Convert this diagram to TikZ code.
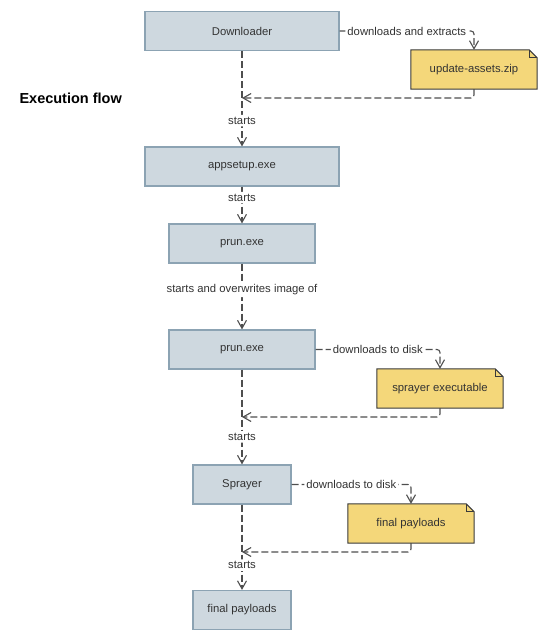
\documentclass[tikz,border=0pt]{standalone}
\usepackage{fontspec}
\setmainfont{Liberation Sans}
\usetikzlibrary{arrows.meta}

\definecolor{boxfill}{HTML}{CED8DF}
\definecolor{boxline}{HTML}{8CA3B3}
\definecolor{notefill}{HTML}{F4D77A}
\definecolor{noteline}{HTML}{3A3A3A}
\definecolor{flowline}{HTML}{4E4E4E}
\definecolor{txt}{HTML}{333333}

\pgfdeclarelayer{background}
\pgfsetlayers{background,main}

\begin{document}
\begin{tikzpicture}[x=1pt, y=-1pt,
    procbox/.style={rectangle, draw=boxline, fill=boxfill, line width=1.2pt, minimum height=39pt, font=\fontsize{11.3}{13}\selectfont, text=txt},
    notetext/.style={rectangle, minimum width=126pt, minimum height=39pt, font=\fontsize{11.3}{13}\selectfont, text=txt},
    flow/.style={draw=flowline, line width=1.1pt, dash pattern=on 7pt off 3pt, rounded corners=3pt, -{Straight Barb[length=8pt,width=9pt]}},
    lbl/.style={fill=white, inner sep=2pt, font=\fontsize{11.3}{13}\selectfont, text=txt}]
    \useasboundingbox (0, 0) rectangle (556, 640);

    \draw (16, 98) node[anchor=west, font=\bfseries\fontsize{14.5}{17}\selectfont, text=black] (title) {Execution flow};

    % main chain
    \draw (242, 31) node[procbox, minimum width=194pt] (dl) {Downloader};
    \draw (242, 166.5) node[procbox, minimum width=194pt] (appsetup) {appsetup.exe};
    \draw (242, 243.5) node[procbox, minimum width=146pt] (prunA) {prun.exe};
    \draw (242, 349.5) node[procbox, minimum width=146pt] (prunB) {prun.exe};
    \draw (242, 484.5) node[procbox, minimum width=98pt] (sprayer) {Sprayer};
    \draw (242, 610) node[procbox, minimum width=98pt] (payl) {final payloads};

    % downloaded files
    \draw (474, 69.5) node[notetext] (zip) {update-assets.zip};
    \draw (440, 388.5) node[notetext] (sprayexe) {sprayer executable};
    \draw (411, 523.5) node[notetext] (paylfile) {final payloads};
    \begin{pgfonlayer}{background}
    \foreach \n in {zip, sprayexe, paylfile}{
        \filldraw[fill=notefill, draw=noteline, line width=1pt] (\n.north west) -- ([xshift=-8pt]\n.north east)
            -- ([yshift=-8pt]\n.north east) -- (\n.south east) -- (\n.south west) -- cycle;
        \draw[noteline, line width=0.8pt] ([xshift=-8pt]\n.north east) |- ([yshift=-8pt]\n.north east);
    }
    \end{pgfonlayer}

    \coordinate (back1) at (242, 98);
    \coordinate (back2) at (242, 417);
    \coordinate (back3) at (242, 552);

    \foreach \src/\file/\back/\what in {dl/zip/back1/downloads and extracts, prunB/sprayexe/back2/downloads to disk, sprayer/paylfile/back3/downloads to disk}{
        \draw[flow] (\src.east) -| node[lbl, pos=0.25] {\what} (\file.north);
        \draw[flow] (\file.south) |- (\back);
    }

    \draw[flow] (dl.south) -- node[lbl, pos=0.73] {starts} (appsetup.north);
    \draw[flow] (appsetup.south) -- node[lbl, pos=0.3] {starts} (prunA.north);
    \draw[flow] (prunA.south) -- node[lbl, pos=0.4] {starts and overwrites image of} (prunB.north);
    \draw[flow] (prunB.south) -- node[lbl, pos=0.71] {starts} (sprayer.north);
    \draw[flow] (sprayer.south) -- node[lbl, pos=0.71] {starts} (payl.north);
\end{tikzpicture}
\end{document}
